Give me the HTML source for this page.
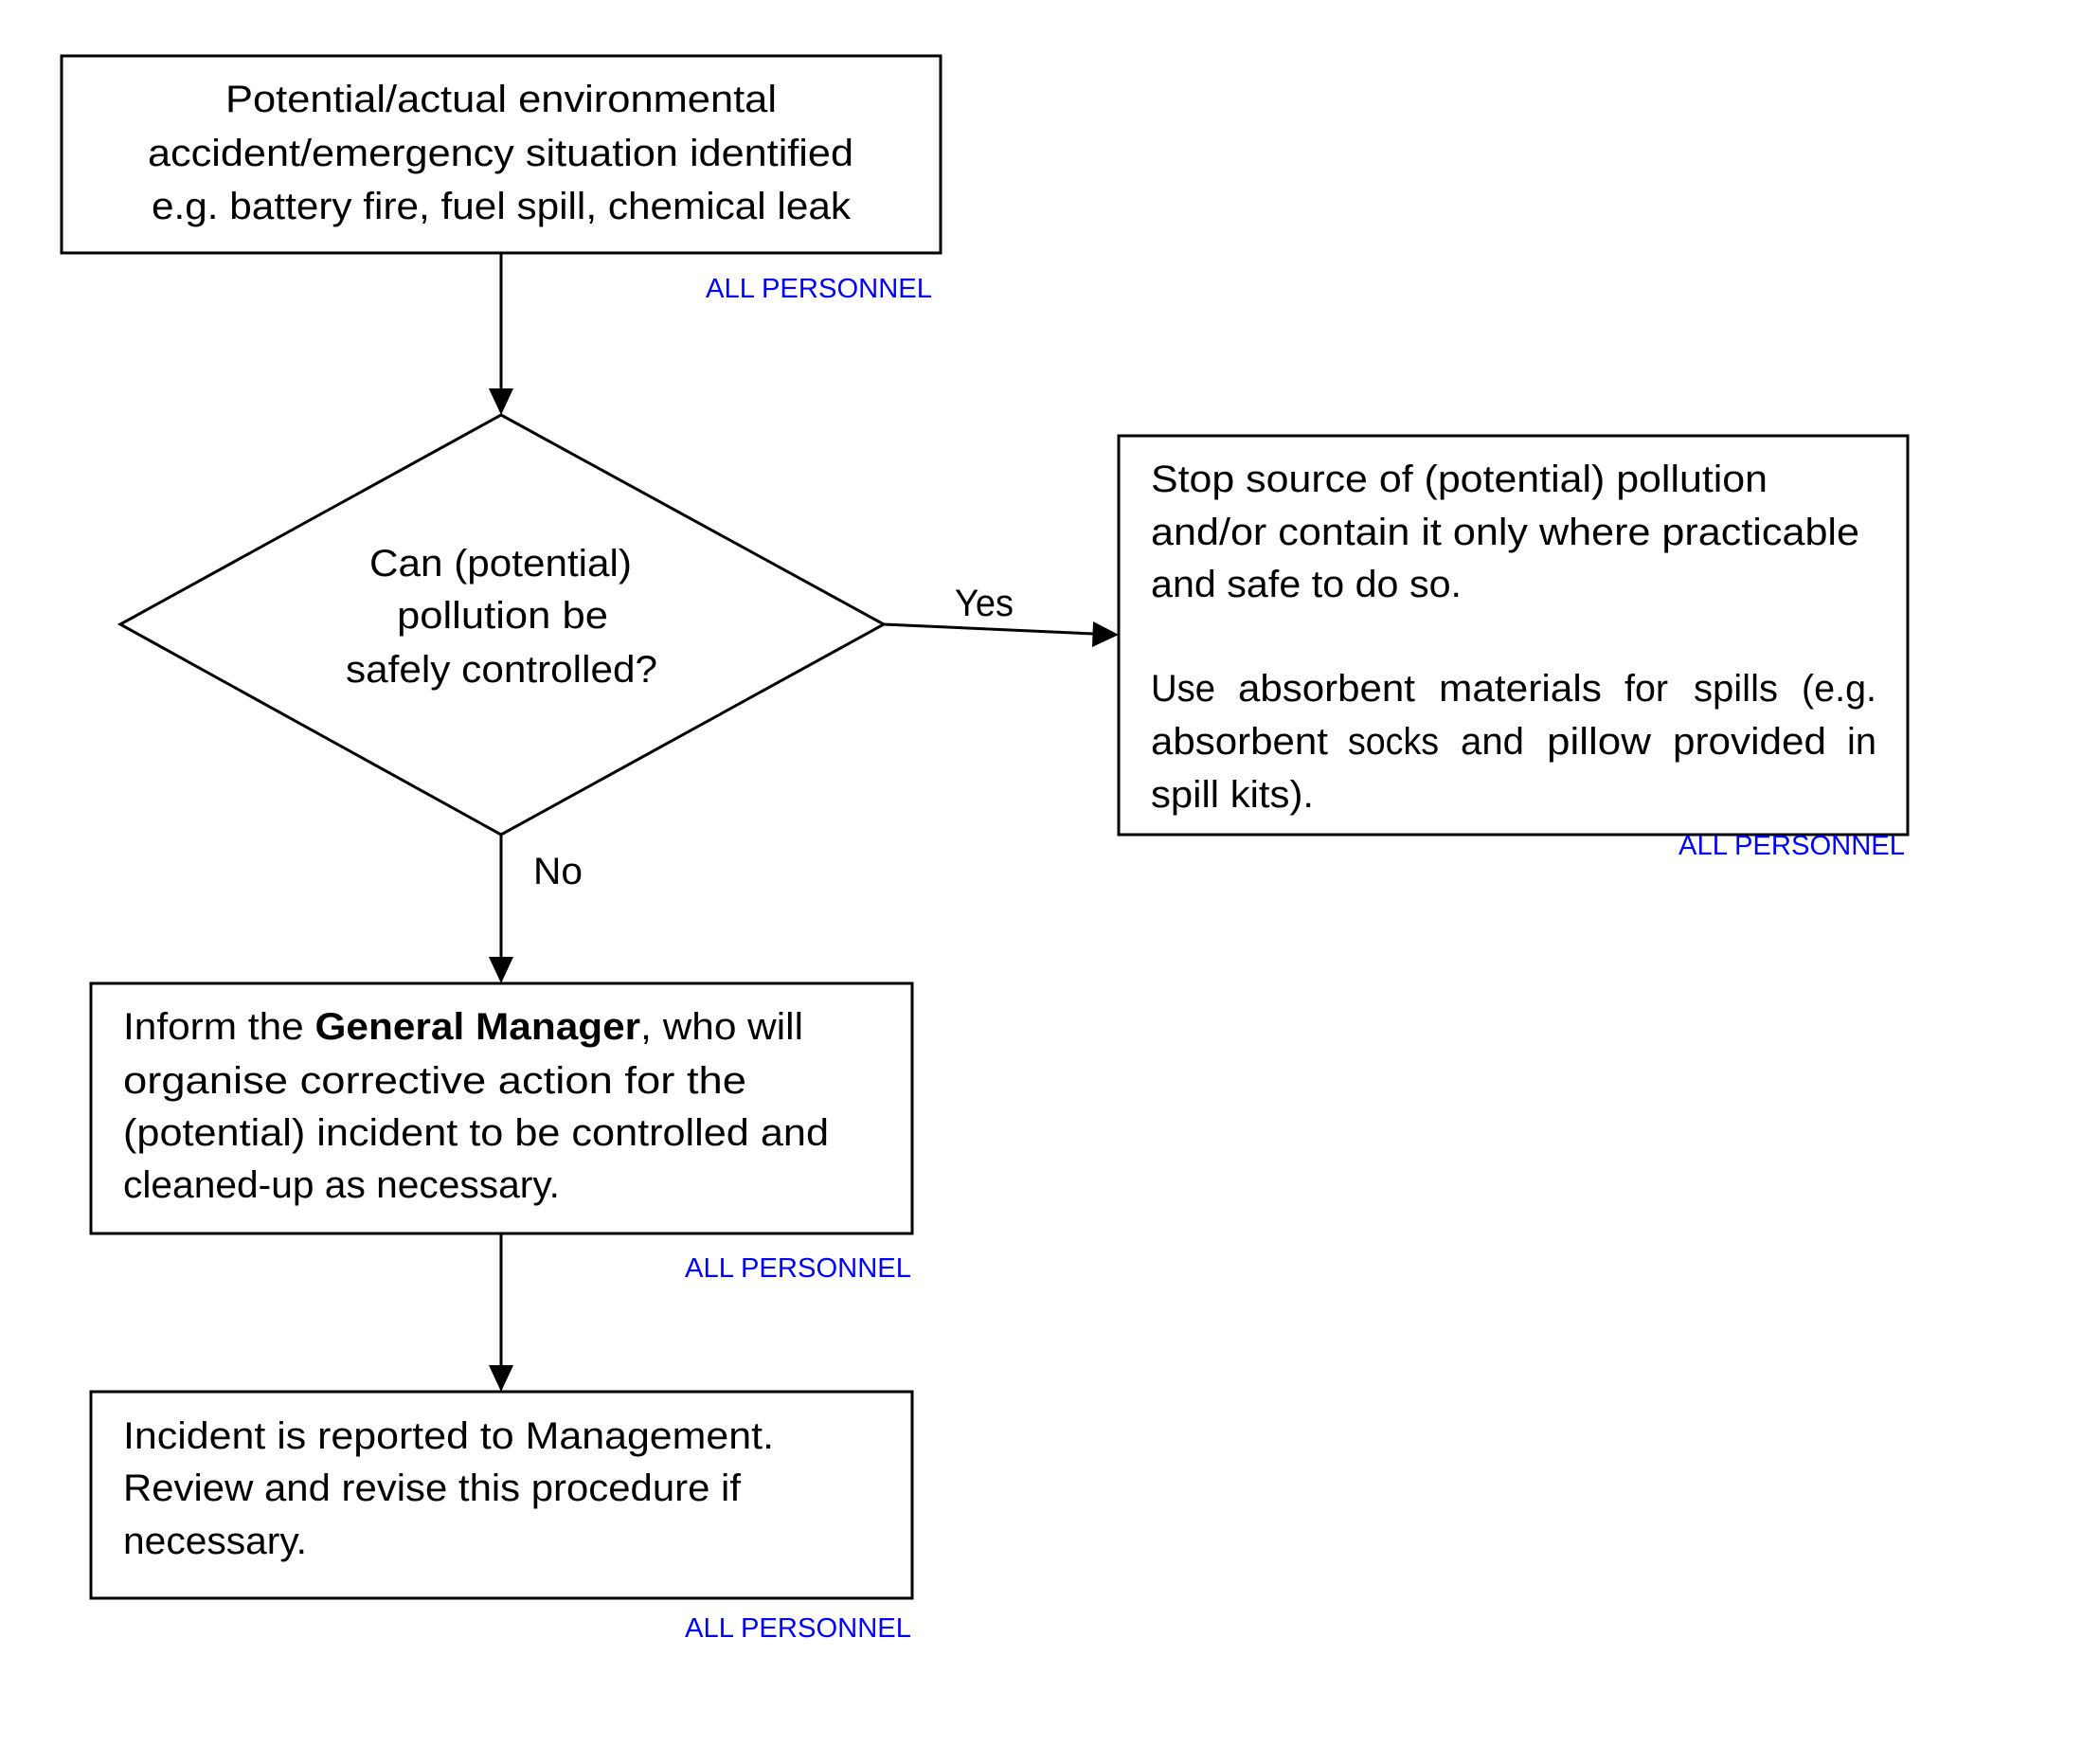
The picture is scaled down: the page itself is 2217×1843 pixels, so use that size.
<!DOCTYPE html>
<html><head><meta charset="utf-8"><style>
html,body{margin:0;padding:0;background:#fff;}
svg{display:block;}
text{font-family:"Liberation Sans",sans-serif;fill:#000;}
.t{font-size:40px;}
.ap{font-size:29px;fill:#0000ff;}
</style></head><body>
<svg width="2217" height="1843" viewBox="0 0 2217 1843" xmlns="http://www.w3.org/2000/svg">
<g fill="none" stroke="#000" stroke-width="3">
<rect x="65" y="59" width="928" height="208"/>
<polygon points="127,659 529,438 933,659 529,881"/>
<rect x="1181" y="460" width="833" height="421"/>
<rect x="96" y="1038" width="867" height="264"/>
<rect x="96" y="1469" width="867" height="218"/>
<line x1="529" y1="267" x2="529" y2="412"/>
<line x1="933" y1="659" x2="1155" y2="669"/>
<line x1="529" y1="881" x2="529" y2="1012"/>
<line x1="529" y1="1302" x2="529" y2="1443"/>
</g>
<g fill="#000">
<polygon points="516,410 542,410 529,438"/>
<polygon points="1154,656 1181,670 1153,683"/>
<polygon points="516,1010 542,1010 529,1038"/>
<polygon points="516,1441 542,1441 529,1469"/>
</g>
<text class="t" x="238" y="118" textLength="582" lengthAdjust="spacingAndGlyphs">Potential/actual environmental</text>
<text class="t" x="156" y="175" textLength="745" lengthAdjust="spacingAndGlyphs">accident/emergency situation identified</text>
<text class="t" x="160" y="231" textLength="738" lengthAdjust="spacingAndGlyphs">e.g. battery fire, fuel spill, chemical leak</text>
<text class="ap" x="745" y="314" textLength="239" lengthAdjust="spacingAndGlyphs">ALL PERSONNEL</text>

<text class="t" x="390" y="608" textLength="277" lengthAdjust="spacingAndGlyphs">Can (potential)</text>
<text class="t" x="419" y="663" textLength="223" lengthAdjust="spacingAndGlyphs">pollution be</text>
<text class="t" x="365" y="720" textLength="329" lengthAdjust="spacingAndGlyphs">safely controlled?</text>

<text class="t" x="1008" y="650" textLength="62" lengthAdjust="spacingAndGlyphs">Yes</text>
<text class="t" x="563" y="933" textLength="52" lengthAdjust="spacingAndGlyphs">No</text>

<text class="t" x="1215" y="519" textLength="651" lengthAdjust="spacingAndGlyphs">Stop source of (potential) pollution</text>
<text class="t" x="1215" y="575" textLength="748" lengthAdjust="spacingAndGlyphs">and/or contain it only where practicable</text>
<text class="t" x="1215" y="630" textLength="328" lengthAdjust="spacingAndGlyphs">and safe to do so.</text>
<g class="t">
<text class="t" x="1215" y="740" textLength="68" lengthAdjust="spacingAndGlyphs">Use</text>
<text class="t" x="1307" y="740" textLength="187" lengthAdjust="spacingAndGlyphs">absorbent</text>
<text class="t" x="1519" y="740" textLength="172" lengthAdjust="spacingAndGlyphs">materials</text>
<text class="t" x="1715" y="740" textLength="46" lengthAdjust="spacingAndGlyphs">for</text>
<text class="t" x="1788" y="740" textLength="89" lengthAdjust="spacingAndGlyphs">spills</text>
<text class="t" x="1902" y="740" textLength="79" lengthAdjust="spacingAndGlyphs">(e.g.</text>
<text class="t" x="1215" y="796" textLength="187" lengthAdjust="spacingAndGlyphs">absorbent</text>
<text class="t" x="1423" y="796" textLength="96" lengthAdjust="spacingAndGlyphs">socks</text>
<text class="t" x="1542" y="796" textLength="67" lengthAdjust="spacingAndGlyphs">and</text>
<text class="t" x="1633" y="796" textLength="110" lengthAdjust="spacingAndGlyphs">pillow</text>
<text class="t" x="1766" y="796" textLength="162" lengthAdjust="spacingAndGlyphs">provided</text>
<text class="t" x="1950" y="796" textLength="31" lengthAdjust="spacingAndGlyphs">in</text>
</g>
<text class="t" x="1215" y="852" textLength="172" lengthAdjust="spacingAndGlyphs">spill kits).</text>
<text class="ap" x="1772" y="902" textLength="239" lengthAdjust="spacingAndGlyphs">ALL PERSONNEL</text>

<text class="t" x="130" y="1097" textLength="718" lengthAdjust="spacingAndGlyphs">Inform the <tspan font-weight="bold">General Manager</tspan>, who will</text>
<text class="t" x="130" y="1154" textLength="658" lengthAdjust="spacingAndGlyphs">organise corrective action for the</text>
<text class="t" x="130" y="1209" textLength="745" lengthAdjust="spacingAndGlyphs">(potential) incident to be controlled and</text>
<text class="t" x="130" y="1264" textLength="461" lengthAdjust="spacingAndGlyphs">cleaned-up as necessary.</text>
<text class="ap" x="723" y="1348" textLength="239" lengthAdjust="spacingAndGlyphs">ALL PERSONNEL</text>

<text class="t" x="130" y="1529" textLength="687" lengthAdjust="spacingAndGlyphs">Incident is reported to Management.</text>
<text class="t" x="130" y="1584" textLength="652" lengthAdjust="spacingAndGlyphs">Review and revise this procedure if</text>
<text class="t" x="130" y="1640" textLength="194" lengthAdjust="spacingAndGlyphs">necessary.</text>
<text class="ap" x="723" y="1728" textLength="239" lengthAdjust="spacingAndGlyphs">ALL PERSONNEL</text>
</svg>
</body></html>
